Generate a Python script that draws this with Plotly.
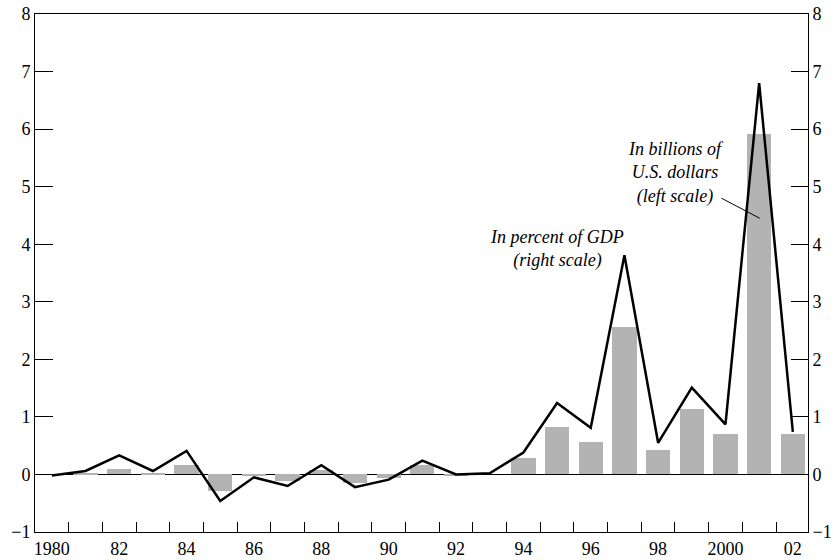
import plotly.graph_objects as go

years = list(range(1980, 2003))
usd_billions = [0.0, 0.02, 0.1, 0.01, 0.17, -0.29, -0.03, -0.12, 0.07, -0.15, -0.06, 0.16,
                -0.01, 0.0, 0.28, 0.82, 0.56, 2.56, 0.42, 1.13, 0.70, 5.92, 0.70]
pct_gdp = [-0.02, 0.06, 0.33, 0.06, 0.41, -0.46, -0.05, -0.2, 0.16, -0.22, -0.09, 0.24,
           0.0, 0.02, 0.38, 1.24, 0.81, 3.81, 0.55, 1.51, 0.87, 6.8, 0.74]
x_tick_vals = [1980, 1982, 1984, 1986, 1988, 1990, 1992, 1994, 1996, 1998, 2000, 2002]
x_tick_text = ["1980", "82", "84", "86", "88", "90", "92", "94", "96", "98", "2000", "02"]
y_tick_vals = [-1, 0, 1, 2, 3, 4, 5, 6, 7, 8]
y_tick_text = ["\u22121", "0", "1", "2", "3", "4", "5", "6", "7", "8"]

FONT = "Liberation Serif"

fig = go.Figure()
fig.add_trace(go.Bar(x=years, y=usd_billions, width=0.72, marker=dict(color="#b3b3b3", line=dict(width=0)),
                     showlegend=False))
fig.add_trace(go.Scatter(x=years, y=pct_gdp, mode="lines", line=dict(color="black", width=2.5),
                         yaxis="y2", showlegend=False))

axis_common = dict(range=[-1, 8], tickvals=y_tick_vals, ticktext=y_tick_text, ticks="inside",
                   tickcolor="black", showline=True, linecolor="black", linewidth=1,
                   showgrid=False, automargin=False, ticklabeloverflow="allow",
                   tickfont=dict(family=FONT, size=18, color="black"))

fig.update_layout(
    width=839, height=560,
    margin=dict(l=35, r=31, t=14, b=28),
    paper_bgcolor="white", plot_bgcolor="white",
    bargap=0,
    xaxis=dict(range=[1979.5, 2002.45], tickvals=x_tick_vals, ticktext=x_tick_text, ticks="",
               showline=True, linecolor="black", linewidth=1, mirror=True, showgrid=False,
               zeroline=False, automargin=False, ticklabeloverflow="allow",
               tickfont=dict(family=FONT, size=18, color="black"),
               minor=dict(tickvals=[y + 0.5 for y in years[:-1]], ticks="inside", ticklen=10,
                          tickcolor="black", showgrid=False)),
    yaxis=dict(**axis_common, ticklen=18, zeroline=True, zerolinecolor="black", zerolinewidth=1),
    yaxis2=dict(**axis_common, ticklen=17, overlaying="y", side="right", zeroline=False),
    annotations=[
        dict(x=1995.0, y=3.91, xref="x", yref="y", text="<i>In percent of GDP<br>(right scale)</i>",
             showarrow=False, align="center", font=dict(family=FONT, size=18, color="black")),
        dict(x=1998.53, y=5.23, xref="x", yref="y", text="<i>In billions of<br>U.S. dollars<br>(left scale)</i>",
             showarrow=False, align="center", font=dict(family=FONT, size=18, color="black")),
    ],
    shapes=[dict(type="line", xref="x", yref="y", x0=1999.88, y0=4.80, x1=2001.02, y1=4.45,
                 line=dict(color="black", width=1))],
)

# remove the default 8px page margin so the 839x560 figure fills the window exactly
fig.write_html("out.html", config={"displayModeBar": False},
               post_script="document.body.style.margin='0';")
